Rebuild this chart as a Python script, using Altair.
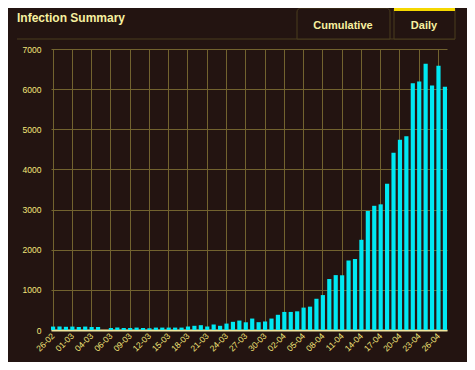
import altair as alt
import pandas as pd

# Daily new infections, one bar per day (index order)
daily_values = [
    85, 85, 80, 85, 75, 85, 75, 75, 0, 50,
    60, 50, 50, 60, 50, 45, 60, 60, 60, 60,
    60, 87, 105, 120, 87, 137, 105, 160, 204, 235,
    192, 285, 195, 212, 285, 379, 450, 450, 465, 558,
    582, 778, 870, 1270, 1367, 1363, 1731, 1768, 2247, 2965,
    3094, 3130, 3645, 4414, 4738, 4828, 6148, 6190, 6631, 6090,
    6580, 6058,
]
# Labels shown on every third bar
tick_labels = [
    "26-02", "01-03", "04-03", "06-03", "09-03", "12-03", "15-03", "18-03",
    "21-03", "24-03", "27-03", "30-03", "02-04", "05-04", "08-04", "11-04",
    "14-04", "17-04", "20-04", "23-04", "26-04",
]
y_ticks = [0, 1000, 2000, 3000, 4000, 5000, 6000, 7000]

df = pd.DataFrame({"i": list(range(len(daily_values))), "cases": daily_values})

BG = "#231411"
LABEL = "#f4e67a"
TEXT = "#f7f0a0"
GRID = "#72632f"
BORDER = "#4a3c1e"
FONT = "Liberation Sans"

label_js = "[" + ",".join("'%s'" % t for t in tick_labels) + "][datum.value/3]"

bars = alt.Chart(df).mark_bar(color="#00e8f2").encode(
    x=alt.X(
        "i:O",
        scale=alt.Scale(paddingInner=0.35, paddingOuter=0),
        axis=alt.Axis(
            title=None,
            values=list(range(0, len(daily_values), 3)),
            labelExpr=label_js,
            labelAngle=-45,
            labelAlign="right",
            labelBaseline="middle",
            labelPadding=4,
            labelFontSize=8.5,
            labelFont=FONT,
            labelColor=LABEL,
            ticks=False,
            grid=True,
            gridColor=GRID,
            gridWidth=1,
            bandPosition=0.5,
            domain=True,
            domainColor="#f0e6a0",
            domainWidth=2,
        ),
    ),
    y=alt.Y(
        "cases:Q",
        scale=alt.Scale(domain=[0, 7000], nice=False),
        axis=alt.Axis(
            title=None,
            values=y_ticks,
            format="d",
            ticks=False,
            domain=False,
            labelPadding=10,
            labelFontSize=8.5,
            labelFont=FONT,
            labelColor=LABEL,
            grid=True,
            gridColor=GRID,
            gridWidth=1,
        ),
    ),
)

one = alt.Data(values=[{}])

title = alt.Chart(one).mark_text(
    align="left", baseline="alphabetic", font=FONT, fontSize=12,
    fontWeight="bold", color=TEXT,
).encode(x=alt.value(-34), y=alt.value(-27), text=alt.value("Infection Summary"))

header_line = alt.Chart(one).mark_rule(color=BORDER, strokeWidth=1).encode(
    x=alt.value(-34), x2=alt.value(404), y=alt.value(-10)
)

tab1 = alt.Chart(one).mark_rect(
    fill=BG, stroke=BORDER, strokeWidth=1,
    cornerRadiusTopLeft=4, cornerRadiusTopRight=4,
).encode(x=alt.value(246), x2=alt.value(339), y=alt.value(-41), y2=alt.value(-10))

tab2 = alt.Chart(one).mark_rect(
    fill=BG, stroke=BORDER, strokeWidth=1,
).encode(x=alt.value(343), x2=alt.value(404), y=alt.value(-40), y2=alt.value(-10))

tab2_top = alt.Chart(one).mark_rect(fill="#f5d800").encode(
    x=alt.value(343), x2=alt.value(404), y=alt.value(-41), y2=alt.value(-38)
)

tab1_text = alt.Chart(one).mark_text(
    align="center", baseline="alphabetic", font=FONT, fontSize=11,
    fontWeight="bold", color=TEXT,
).encode(x=alt.value(292), y=alt.value(-20), text=alt.value("Cumulative"))

tab2_text = alt.Chart(one).mark_text(
    align="center", baseline="alphabetic", font=FONT, fontSize=11,
    fontWeight="bold", color=TEXT,
).encode(x=alt.value(373), y=alt.value(-20), text=alt.value("Daily"))

chart = alt.layer(
    bars, header_line, tab1, tab2, tab2_top, title, tab1_text, tab2_text
).properties(
    width=396,
    height=281,
    background=BG,
    autosize=alt.AutoSizeParams(type="none"),
    padding={"left": 43, "top": 41, "right": 20, "bottom": 32},
).configure_view(stroke=None)

chart.save("out.html", embed_options={"renderer": "svg", "actions": False})
